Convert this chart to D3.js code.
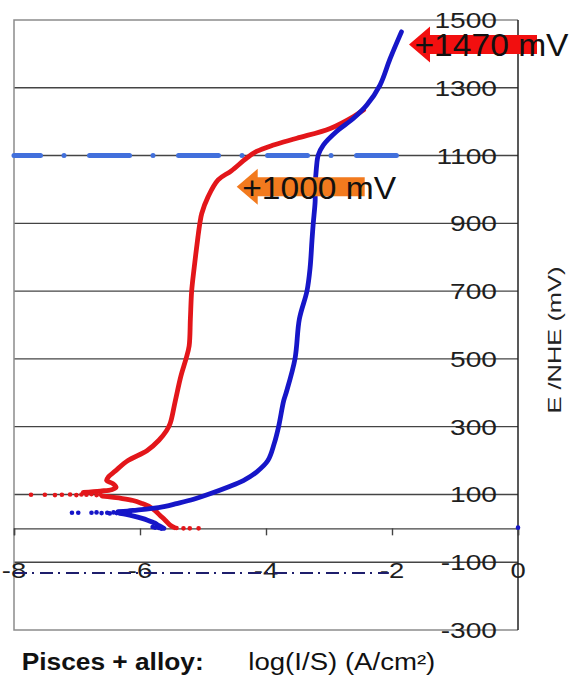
<!DOCTYPE html>
<html><head><meta charset="utf-8">
<script src="https://cdn.jsdelivr.net/npm/d3@7"></script>
<style>body{margin:0;background:#fff}</style>
</head><body>
<svg id="c" width="572" height="677"></svg>
<script>
// ---- data ----
const xTicks = [-8, -6, -4, -2, 0];
const yTicks = [1500, 1300, 1100, 900, 700, 500, 300, 100, -100, -300];
const yTickLabels = ["1500","1300","1100","900","700","500","300","100","-100","-300"];
const xTickLabels = ["-8","-6","-4","-2","0"];

// blue curve: log(I/S), E (mV)
const blueCathodic = [[-5.62,0],[-5.70,8],[-5.76,15],[-5.88,24],[-5.98,30],[-6.10,36],[-6.22,41],[-6.32,44]];
const blueAnodic = [[-6.35,49],[-6.20,51],[-6.05,54],[-5.84,58],[-5.60,65],[-5.42,73],[-5.15,86],[-4.89,102],[-4.60,122],[-4.36,141],[-4.15,166],[-3.97,200],[-3.87,250],[-3.80,300],[-3.72,376],[-3.68,400],[-3.54,500],[-3.47,618],[-3.35,700],[-3.30,769],[-3.27,850],[-3.25,900],[-3.22,965],[-3.22,1004],[-3.20,1063],[-3.17,1102],[-3.09,1131],[-2.88,1171],[-2.61,1210],[-2.40,1249],[-2.19,1308],[-2.03,1386],[-1.85,1465]];
const blueDots = [[-7.08,46],[-6.98,46],[-6.77,46],[-6.69,47],[-6.61,45],[-6.52,46],[-6.48,44],[-6.42,47],[-6.37,45],[-6.32,47],[-6.27,48],[-6.24,46],[-6.16,49],[-5.80,4],[-5.76,2],[-5.70,1],[-5.66,-1],[0,2]];

// red curve
const redCathodic = [[-5.45,2],[-5.52,9],[-5.60,24],[-5.68,38],[-5.76,52],[-5.84,63],[-5.98,74],[-6.11,82],[-6.28,88],[-6.45,92],[-6.60,95]];
const redAnodic = [[-6.90,106],[-6.63,110],[-6.45,114],[-6.38,121],[-6.43,132],[-6.53,141],[-6.50,152],[-6.40,168],[-6.19,200],[-5.89,229],[-5.70,260],[-5.58,288],[-5.52,310],[-5.44,376],[-5.35,450],[-5.27,500],[-5.22,538],[-5.20,620],[-5.18,700],[-5.14,769],[-5.08,860],[-5.05,900],[-5.02,929],[-4.92,978],[-4.76,1028],[-4.55,1055],[-4.31,1092],[-4.15,1112],[-3.88,1131],[-3.51,1151],[-2.98,1180],[-2.61,1215],[-2.45,1235]];
const redDots = [[-7.73,99],[-7.51,99],[-7.35,98],[-7.24,99],[-7.11,100],[-7.01,98],[-6.93,100],[-6.85,99],[-6.77,101],[-6.69,98],[-6.63,100],[-5.42,1],[-5.31,0],[-5.21,0],[-5.07,0]];

// reference lines
const line1100 = [[-8,1100],[-1.93,1100]];
const lineLow = [[-8,-132],[-2.05,-132]];

// annotations
const arrowLabels = ["+1470 mV", "+1000 mV"];
const arrowTipX = [-1.73, -4.465];
const arrowE = [1428, 1008];
const arrowColors = ["#f20f0f", "#f27a1e"];

// ---- drawing ----
const svg = d3.select("#c");
const x = d3.scaleLinear().domain([-8, 0]).range([14, 518]);
const y = d3.scaleLinear().domain([-300, 1500]).range([630, 20]);
const font = "'Liberation Sans', Arial, sans-serif";

// gridlines
svg.append("g").selectAll("line").data(yTicks.filter(d => d !== 1500 && d !== -300)).join("line")
  .attr("x1", x(-8)).attr("x2", x(0)).attr("y1", d => y(d)).attr("y2", d => y(d))
  .attr("stroke", "#444").attr("stroke-width", 1.4);

// frame (gray) top/left/bottom
svg.append("path")
  .attr("d", `M${x(0)},${y(1500)}H${x(-8)}V${y(-300)}H${x(0)}`)
  .attr("fill", "none").attr("stroke", "#8c8c8c").attr("stroke-width", 1.5);
// right axis
svg.append("line").attr("x1", x(0)).attr("x2", x(0)).attr("y1", y(1500)).attr("y2", y(-300))
  .attr("stroke", "#222").attr("stroke-width", 1.5);

// x axis at E=0
const xAxis = d3.axisBottom(x).tickValues(xTicks).tickSize(7).tickFormat("");
const gx = svg.append("g").attr("transform", `translate(0,${y(0)})`).call(xAxis);
gx.select(".domain").attr("stroke", "#444").attr("stroke-width", 1.4);
gx.selectAll(".tick line").attr("stroke", "#444").attr("stroke-width", 1.4);

// y tick labels
svg.append("g").selectAll("text").data(yTicks).join("text")
  .attr("transform", d => `translate(497,${y(d) + 8}) scale(1.25,1)`)
  .attr("text-anchor", "end").attr("font-family", font).attr("font-size", 22.5).attr("fill", "#1e1e1e")
  .text((d, i) => yTickLabels[i]);

// x tick labels
svg.append("g").selectAll("text").data(xTicks).join("text")
  .attr("transform", d => `translate(${x(d)},578) scale(1.22,1)`)
  .attr("text-anchor", "middle").attr("font-family", font).attr("font-size", 22.5).attr("fill", "#1e1e1e")
  .text((d, i) => xTickLabels[i]);

const lineGen = d3.line().x(d => x(d[0])).y(d => y(d[1]));
const smooth = d3.line().x(d => x(d[0])).y(d => y(d[1])).curve(d3.curveCatmullRom.alpha(0.5));

// dashed 1100 line
svg.append("path").attr("d", lineGen(line1100)).attr("fill", "none")
  .attr("stroke", "#4270dc").attr("stroke-width", 5).attr("stroke-linecap", "round")
  .attr("stroke-dasharray", "40,23.5,0.01,25.5").attr("stroke-dashoffset", 13.5);

// navy dash-dot line
svg.append("path").attr("d", lineGen(lineLow)).attr("fill", "none")
  .attr("stroke", "#1e1e6c").attr("stroke-width", 2)
  .attr("stroke-dasharray", "13,5,2,6");

// red
[redCathodic, redAnodic].forEach(s => svg.append("path").attr("d", smooth(s)).attr("fill", "none")
  .attr("stroke", "#e3161a").attr("stroke-width", 4.8).attr("stroke-linejoin", "round").attr("stroke-linecap", "round"));
svg.append("g").selectAll("circle").data(redDots).join("circle")
  .attr("cx", d => x(d[0])).attr("cy", d => y(d[1])).attr("r", 2.3).attr("fill", "#e3161a");

// blue
[blueCathodic, blueAnodic].forEach(s => svg.append("path").attr("d", smooth(s)).attr("fill", "none")
  .attr("stroke", "#1616c8").attr("stroke-width", 4.8).attr("stroke-linejoin", "round").attr("stroke-linecap", "round"));
svg.append("g").selectAll("circle").data(blueDots).join("circle")
  .attr("cx", d => x(d[0])).attr("cy", d => y(d[1])).attr("r", 2.3).attr("fill", "#1616c8");

// arrows + labels
function arrowPts(tx, cy) {
  const len = 128, hl = 21, hh = 36, bh = 19;
  return [[tx, cy], [tx + hl, cy - hh / 2], [tx + hl, cy - bh / 2], [tx + len, cy - bh / 2],
          [tx + len, cy + bh / 2], [tx + hl, cy + bh / 2], [tx + hl, cy + hh / 2]];
}
arrowLabels.forEach((lab, i) => {
  const tx = x(arrowTipX[i]), cy = y(arrowE[i]);
  svg.append("polygon").attr("points", arrowPts(tx, cy).map(p => p.join(",")).join(" "))
    .attr("fill", arrowColors[i]);
  svg.append("text").attr("x", tx + 5.5).attr("y", cy + 12)
    .attr("font-family", font).attr("font-size", 32).attr("fill", "#111")
    .attr("textLength", 154).attr("lengthAdjust", "spacingAndGlyphs").text(lab);
});

// y title
svg.append("text").attr("transform", "translate(561,340) rotate(-90)")
  .attr("text-anchor", "middle").attr("font-family", font).attr("font-size", 19).attr("fill", "#222")
  .attr("textLength", 147).attr("lengthAdjust", "spacingAndGlyphs").text("E /NHE (mV)");

// bottom titles
svg.append("text").attr("x", 21.7).attr("y", 670).attr("font-family", font).attr("font-weight", "bold")
  .attr("font-size", 23).attr("fill", "#111").attr("textLength", 182).attr("lengthAdjust", "spacingAndGlyphs")
  .text("Pisces + alloy:");
svg.append("text").attr("x", 248.3).attr("y", 670).attr("font-family", font)
  .attr("font-size", 23).attr("fill", "#111").attr("textLength", 187).attr("lengthAdjust", "spacingAndGlyphs")
  .text("log(I/S) (A/cm²)");
</script>
</body></html>
